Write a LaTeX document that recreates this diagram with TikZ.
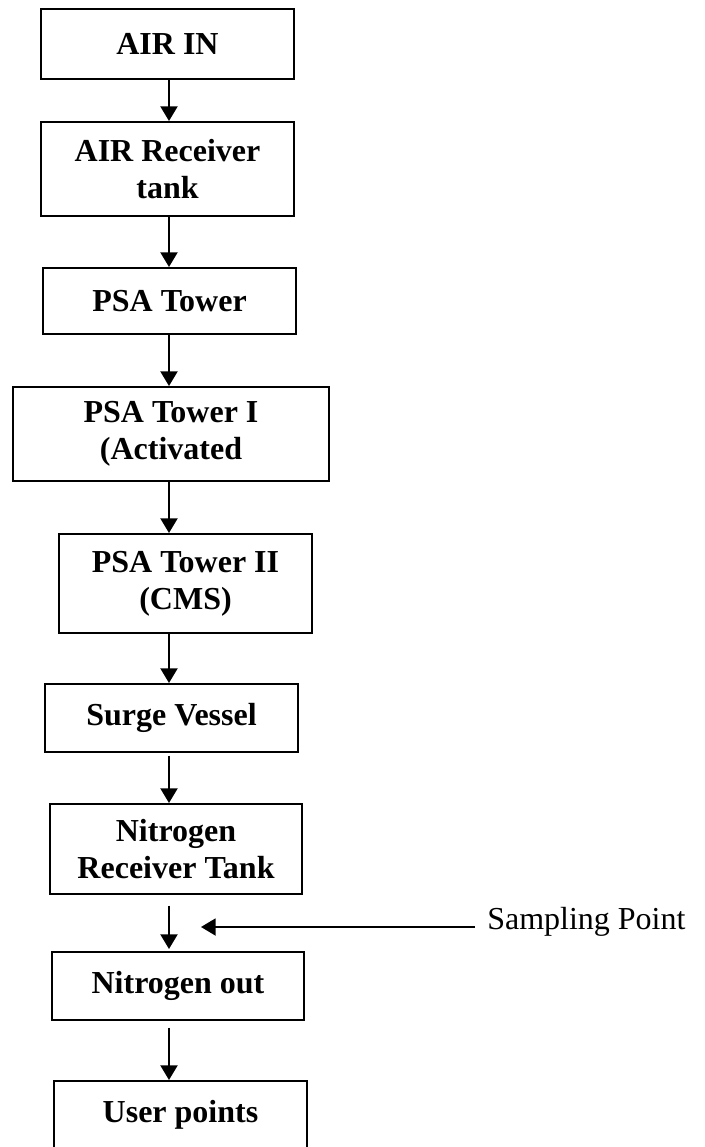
\documentclass[tikz,border=0pt]{standalone}
\usepackage{fontspec}
\setmainfont{Liberation Serif}
\usetikzlibrary{arrows.meta}
\begin{document}
\begin{tikzpicture}[x=0.75pt,y=-0.75pt,
  box/.style={draw, line width=1.5pt, align=center, inner sep=0pt,
    font=\bfseries\fontsize{24}{27.5}\selectfont},
  arr/.style={line width=1.5pt, -{Triangle[width=12.75pt,length=11pt]}},
  lbl/.style={font=\fontsize{24}{27.5}\selectfont, inner sep=0pt}]
\useasboundingbox (0,0) rectangle (704,1147);
\clip (0,0) rectangle (704,1147);
\coordinate (ax) at (169,0);
\node[box, minimum width=189.75pt, minimum height=52.5pt] (n1) at (167.5,44) {AIR IN};
\node[box, minimum width=189.75pt, minimum height=70.5pt] (n2) at (167.5,169) {AIR Receiver\\tank};
\node[box, minimum width=189.75pt, minimum height=49.5pt] (n3) at (169.5,301) {PSA Tower};
\node[box, minimum width=237pt, minimum height=70.5pt] (n4) at (171,434) {PSA Tower I\\(Activated};
\node[box, minimum width=189.75pt, minimum height=74.25pt] (n5) at (185.5,583.5) {PSA Tower II\\(CMS)};
\node[box, minimum width=189.75pt, minimum height=51pt] (n6) at (171.5,718) {Surge Vessel};
\node[box, minimum width=189pt, minimum height=67.5pt] (n7) at (176,849) {Nitrogen\\Receiver Tank};
\node[box, minimum width=189pt, minimum height=51pt] (n8) at (178,986) {Nitrogen out};
\node[box, minimum width=189.75pt, minimum height=51pt] (n9) at (180.5,1115) {User points};
\draw[arr] (n1.south -| ax) -- (n2.north -| ax);
\draw[arr] (n2.south -| ax) -- (n3.north -| ax);
\draw[arr] (n3.south -| ax) -- (n4.north -| ax);
\draw[arr] (n4.south -| ax) -- (n5.north -| ax);
\draw[arr] (n5.south -| ax) -- (n6.north -| ax);
\draw[arr, shorten <=2pt] (n6.south -| ax) -- (n7.north -| ax);
\draw[arr, shorten <=8pt, shorten >=1.5pt] (n7.south -| ax) -- (n8.north -| ax);
\draw[arr, shorten <=5pt] (n8.south -| ax) -- (n9.north -| ax);
\node[lbl, anchor=base west] (sp) at (487,929) {Sampling Point};
\coordinate (spt) at (201,927);
\draw[arr, shorten <=9pt] (sp.west |- spt) -- (spt);
\end{tikzpicture}
\end{document}
